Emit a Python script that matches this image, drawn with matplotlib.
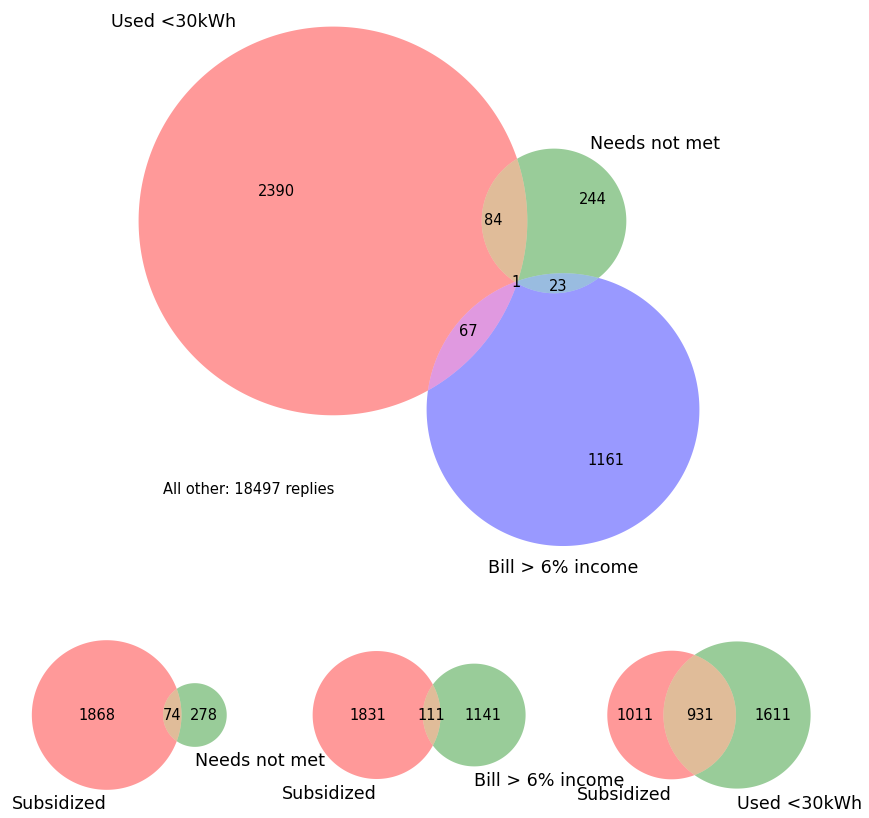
import numpy as np
import matplotlib
matplotlib.use('Agg')
import matplotlib.pyplot as plt
from matplotlib.colors import to_rgb
from matplotlib.patches import Polygon
from matplotlib.gridspec import GridSpec

plt.rcParams['font.family'] = 'DejaVu Sans'
plt.rcParams['font.size'] = 10.5

# top diagram, region counts in order Abc, aBc, ABc, abC, AbC, aBC, ABC
top_sets = ['Used <30kWh', 'Needs not met', 'Bill > 6% income']
top_counts = [2390, 244, 84, 1161, 67, 23, 1]
all_other = 18497

# bottom diagrams, region counts in order Ab, aB, AB
pair_sets = [('Subsidized', 'Needs not met'),
             ('Subsidized', 'Bill > 6% income'),
             ('Subsidized', 'Used <30kWh')]
pair_counts = [[1868, 278, 74],
               [1831, 1141, 111],
               [1011, 1611, 931]]

members3 = [(1, 0, 0), (0, 1, 0), (1, 1, 0), (0, 0, 1), (1, 0, 1), (0, 1, 1), (1, 1, 1)]
members2 = [(1, 0), (0, 1), (1, 1)]


def lens_area(r1, r2, d):
    if d >= r1 + r2:
        return 0.0
    if d <= abs(r1 - r2):
        return np.pi * min(r1, r2) ** 2
    a1 = r1 ** 2 * np.arccos((d * d + r1 * r1 - r2 * r2) / (2 * d * r1))
    a2 = r2 ** 2 * np.arccos((d * d + r2 * r2 - r1 * r1) / (2 * d * r2))
    a3 = 0.5 * np.sqrt((-d + r1 + r2) * (d + r1 - r2) * (d - r1 + r2) * (d + r1 + r2))
    return a1 + a2 - a3


# distance between centres so that the overlap has the wanted area
def dist_for_area(r1, r2, area):
    lo, hi = abs(r1 - r2), r1 + r2
    for _ in range(100):
        mid = (lo + hi) / 2
        if lens_area(r1, r2, mid) > area:
            lo = mid
        else:
            hi = mid
    return (lo + hi) / 2


def center_of_mass(centers, radii):
    w = radii ** 2
    return centers - w @ centers / w.sum()


def layout2(counts):
    ab, ba, both = np.array(counts, float) / sum(counts)
    radii = np.sqrt(np.array([ab + both, ba + both]) / np.pi)
    d = dist_for_area(radii[0], radii[1], both)
    centers = np.array([[0.0, 0.0], [d, 0.0]])
    return center_of_mass(centers, radii), radii


def layout3(counts):
    Abc, aBc, ABc, abC, AbC, aBC, ABC = np.array(counts, float) / sum(counts)
    areas = np.array([Abc + ABc + AbC + ABC, aBc + ABc + aBC + ABC, abC + AbC + aBC + ABC])
    radii = np.sqrt(areas / np.pi)
    d_ab = dist_for_area(radii[0], radii[1], ABc + ABC)
    d_bc = dist_for_area(radii[1], radii[2], aBC + ABC)
    d_ac = dist_for_area(radii[0], radii[2], AbC + ABC)
    cx = (d_ac ** 2 - d_bc ** 2 + d_ab ** 2) / (2 * d_ab)
    cy = -np.sqrt(d_ac ** 2 - cx ** 2)
    centers = np.array([[0.0, 0.0], [d_ab, 0.0], [cx, cy]])
    return center_of_mass(centers, radii), radii


# boundary of one region as arcs, plus a label position
def region(centers, radii, member, n=4000):
    t = np.linspace(0, 2 * np.pi, n, endpoint=False)
    arcs = []
    for i in range(len(radii)):
        pts = centers[i] + radii[i] * np.column_stack([np.cos(t), np.sin(t)])
        ok = np.ones(n, bool)
        for j in range(len(radii)):
            if j != i:
                inside = np.hypot(*(pts - centers[j]).T) < radii[j]
                ok &= inside == bool(member[j])
        if not ok.any():
            continue
        if ok.all():
            runs = [np.arange(n)]
        else:
            idx = np.roll(np.arange(n), -np.argmin(ok))
            edges = np.diff(np.concatenate([[0], ok[idx].astype(int), [0]]))
            starts = np.where(edges == 1)[0]
            ends = np.where(edges == -1)[0]
            runs = [idx[s:e] for s, e in zip(starts, ends)]
        for r in runs:
            p = pts[r] if member[i] else pts[r][::-1]
            arcs.append((p, len(r) * 360.0 / n))
    chain = [arcs.pop(0)]
    while arcs:
        end = chain[-1][0][-1]
        k = min(range(len(arcs)), key=lambda k: np.hypot(*(arcs[k][0][0] - end)))
        chain.append(arcs.pop(k))
    poly = np.vstack([a[0] for a in chain])
    mids = np.array([a[0][len(a[0]) // 2] for a in chain])
    w = np.array([a[1] for a in chain])
    if len(chain) == 2:
        pos = mids.mean(0)
    else:
        pos = w @ mids / w.sum()
    return poly, pos


def region_color(colors, member):
    cols = [np.array(to_rgb(c)) for c, m in zip(colors, member) if m]
    if len(cols) == 1:
        return cols[0]
    f = 0.7 if len(cols) == 2 else 0.4
    return np.minimum(f * sum(cols), 1.0)


def draw_regions(ax, centers, radii, counts, members, colors):
    for cnt, m in zip(counts, members):
        poly, pos = region(centers, radii, m)
        ax.add_patch(Polygon(poly, closed=True, facecolor=region_color(colors, m),
                             alpha=0.4, edgecolor='none'))
        ax.text(pos[0], pos[1], str(cnt), ha='center', va='center')


def set_limits(ax, centers, radii):
    lo = (centers - radii[:, None]).min(0) - 0.1
    hi = (centers + radii[:, None]).max(0) + 0.1
    ax.set_xlim(lo[0], hi[0])
    ax.set_ylim(lo[1], hi[1])
    ax.set_aspect('equal')
    ax.set_axis_off()
    return lo, hi


W, H = 869, 818
fig = plt.figure(figsize=(W / 100, H / 100), dpi=100)

# top: three sets
c3, r3 = layout3(top_counts)
lo = (c3 - r3[:, None]).min(0) - 0.1
hi = (c3 + r3[:, None]).max(0) + 0.1
scale = 430.5
w_px, h_px = (hi - lo) * scale
cx_px, cy_px = 419, 286.3
left_px, top_px = cx_px - w_px / 2, cy_px - h_px / 2
ax = fig.add_axes([left_px / W, 1 - (top_px + h_px) / H, w_px / W, h_px / H])
set_limits(ax, c3, r3)
draw_regions(ax, c3, r3, top_counts, members3, ('r', 'g', 'b'))
pad = np.mean(r3 * 0.1)
ax.text(c3[0, 0] - r3[0] / 2, c3[0, 1] + r3[0], top_sets[0], size='large', ha='right')
ax.text(c3[1, 0] + r3[1] / 2, c3[1, 1] + r3[1], top_sets[1], size='large', ha='left')
ax.text(c3[2, 0], c3[2, 1] - r3[2] - pad, top_sets[2], size='large', ha='center', va='top')
ax.text((163 - left_px) / w_px, 1 - (489 - top_px) / h_px,
        'All other: %d replies' % all_other, transform=ax.transAxes, va='center')

# bottom: three pairs
gs = GridSpec(1, 3, figure=fig, left=0.0098, right=0.9548, bottom=0.0171, top=0.2347, wspace=0.2)
for k in range(3):
    ax = fig.add_subplot(gs[0, k])
    c2, r2 = layout2(pair_counts[k])
    set_limits(ax, c2, r2)
    draw_regions(ax, c2, r2, pair_counts[k], members2, ('r', 'g'))
    pad = np.mean(r2 * 0.1)
    ax.text(c2[0, 0], c2[0, 1] - r2[0] - pad, pair_sets[k][0], size='large', ha='right', va='top')
    ax.text(c2[1, 0], c2[1, 1] - r2[1] - pad, pair_sets[k][1], size='large', ha='left', va='top')

fig.savefig('out.png', dpi=100)
